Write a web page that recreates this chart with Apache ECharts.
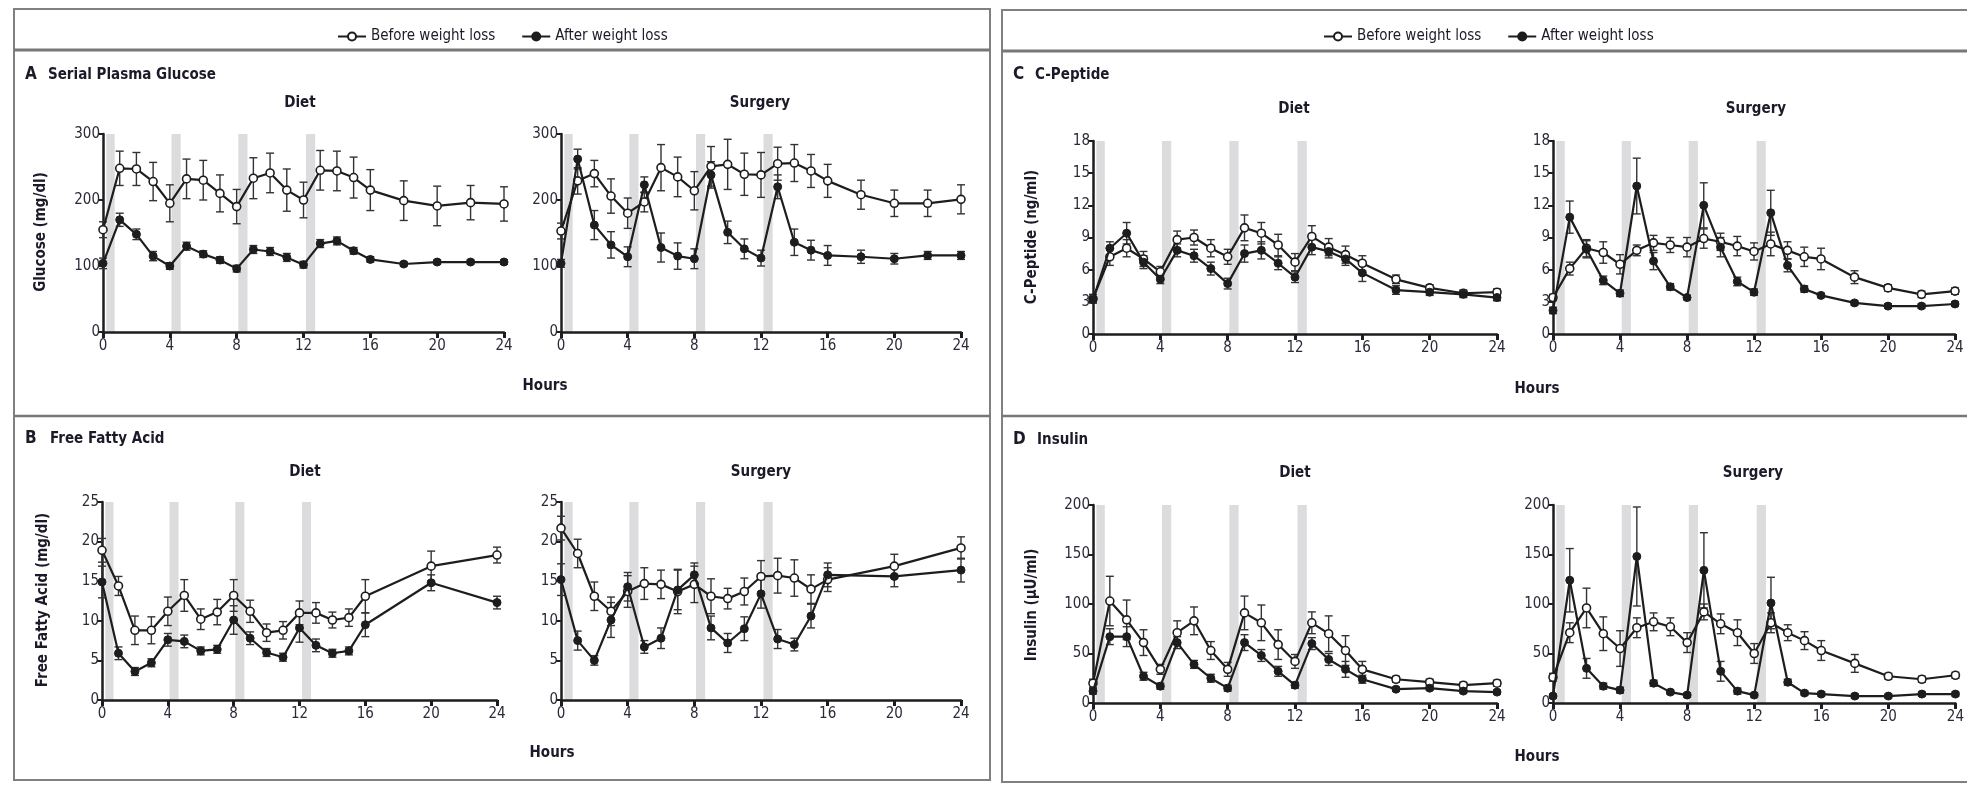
<!DOCTYPE html>
<html>
<head>
<meta charset="utf-8">
<script src="https://cdn.jsdelivr.net/npm/echarts@6/dist/echarts.min.js"></script>
<style>
  html, body { margin: 0; background: #fff; }
  #chart { width: 1967px; height: 785px; }
</style>
</head>
<body>
<div id="chart"></div>
<script>
// ===== time points & meals =====
const HOURS = [0, 1, 2, 3, 4, 5, 6, 7, 8, 9, 10, 11, 12, 13, 14, 15, 16, 18, 20, 22, 24];
const FFA_HOURS = [0, 1, 2, 3, 4, 5, 6, 7, 8, 9, 10, 11, 12, 13, 14, 15, 16, 20, 24];
const MEALS = [[0.2, 0.7], [4.1, 4.65], [8.1, 8.65], [12.15, 12.7]];
const X_TICKS = [0, 4, 8, 12, 16, 20, 24];

// A — glucose (mg/dl)
const GLU_DIET_BEFORE = [155, 248, 247, 228, 195, 232, 230, 210, 190, 233, 241, 215, 200, 245, 244, 234, 215, 199, 191, 196, 194];
const GLU_DIET_BEFORE_SE = [12, 26, 25, 29, 28, 30, 30, 28, 26, 31, 30, 32, 27, 30, 30, 31, 31, 30, 30, 26, 26];
const GLU_DIET_AFTER = [104, 170, 148, 115, 100, 130, 118, 109, 96, 125, 122, 113, 102, 134, 138, 123, 110, 103, 106, 106, 106];
const GLU_DIET_AFTER_SE = [8, 10, 8, 7, 5, 6, 5, 5, 5, 6, 6, 6, 5, 6, 6, 5, 4, 3, 3, 3, 3];
const GLU_SURG_BEFORE = [153, 229, 240, 206, 180, 197, 249, 235, 214, 251, 254, 239, 238, 255, 256, 244, 229, 208, 195, 195, 201];
const GLU_SURG_BEFORE_SE = [12, 20, 20, 26, 23, 15, 35, 30, 29, 30, 38, 32, 34, 25, 28, 25, 25, 22, 20, 20, 22];
const GLU_SURG_AFTER = [104, 262, 162, 132, 114, 223, 128, 115, 111, 238, 151, 126, 112, 220, 136, 124, 116, 114, 111, 116, 116];
const GLU_SURG_AFTER_SE = [6, 15, 22, 20, 15, 12, 22, 20, 15, 20, 17, 15, 12, 18, 20, 15, 15, 10, 8, 6, 6];

// B — free fatty acid (mg/dl)
const FFA_DIET_BEFORE = [18.9, 14.4, 8.8, 8.8, 11.2, 13.2, 10.2, 11.1, 13.2, 11.2, 8.5, 8.8, 11.0, 11.0, 10.1, 10.4, 13.1, 16.9, 18.3];
const FFA_DIET_BEFORE_SE = [1.5, 1.2, 1.8, 1.7, 1.8, 2.0, 1.3, 1.6, 2.0, 1.4, 1.1, 1.1, 1.5, 1.3, 1.0, 1.1, 2.1, 1.9, 1.0];
const FFA_DIET_AFTER = [14.9, 5.9, 3.6, 4.7, 7.6, 7.4, 6.2, 6.4, 10.1, 7.8, 6.0, 5.4, 9.1, 6.9, 5.9, 6.2, 9.5, 14.8, 12.3];
const FFA_DIET_AFTER_SE = [2.0, 0.8, 0.5, 0.5, 0.8, 0.8, 0.5, 0.5, 1.8, 0.8, 0.5, 0.5, 1.8, 0.8, 0.5, 0.5, 1.5, 1.0, 0.8];
const FFA_SURG_BEFORE = [21.7, 18.5, 13.1, 11.2, 13.7, 14.7, 14.6, 13.7, 14.6, 13.1, 12.8, 13.7, 15.6, 15.7, 15.4, 14.0, 15.2, 16.9, 19.2];
const FFA_SURG_BEFORE_SE = [1.5, 1.8, 1.8, 1.8, 2.0, 2.0, 1.8, 2.8, 2.3, 2.2, 1.3, 1.7, 2.0, 2.2, 2.3, 1.8, 1.5, 1.5, 1.4];
const FFA_SURG_AFTER = [15.2, 7.5, 5.0, 10.1, 14.3, 6.7, 7.8, 13.9, 15.8, 9.1, 7.2, 9.0, 13.4, 7.7, 7.0, 10.6, 15.8, 15.6, 16.4];
const FFA_SURG_AFTER_SE = [2.0, 1.2, 0.6, 2.2, 1.8, 0.8, 1.3, 2.5, 1.5, 1.5, 1.2, 1.5, 1.8, 1.2, 0.8, 1.5, 1.5, 1.3, 1.5];

// C — C-peptide (ng/ml)
const CPEP_DIET_BEFORE = [3.3, 7.2, 8.0, 7.0, 5.8, 8.8, 9.0, 8.0, 7.2, 9.9, 9.4, 8.3, 6.7, 9.1, 8.1, 7.4, 6.6, 5.1, 4.3, 3.8, 3.9];
const CPEP_DIET_BEFORE_SE = [0.4, 0.8, 0.8, 0.7, 0.5, 0.8, 0.7, 0.8, 0.7, 1.2, 1.0, 1.0, 0.8, 1.0, 0.8, 0.8, 0.7, 0.4, 0.3, 0.3, 0.3];
const CPEP_DIET_AFTER = [3.2, 8.0, 9.4, 6.7, 5.1, 7.8, 7.3, 6.1, 4.7, 7.5, 7.8, 6.6, 5.3, 8.1, 7.7, 7.0, 5.7, 4.1, 3.9, 3.7, 3.4];
const CPEP_DIET_AFTER_SE = [0.3, 0.6, 1.0, 0.6, 0.4, 0.6, 0.6, 0.6, 0.5, 0.8, 0.8, 0.6, 0.5, 0.7, 0.6, 0.6, 0.8, 0.4, 0.3, 0.3, 0.3];
const CPEP_SURG_BEFORE = [3.4, 6.1, 8.0, 7.6, 6.5, 7.8, 8.5, 8.3, 8.1, 8.9, 8.6, 8.2, 7.7, 8.4, 7.8, 7.2, 7.0, 5.3, 4.3, 3.7, 4.0];
const CPEP_SURG_BEFORE_SE = [0.3, 0.6, 0.8, 1.0, 0.9, 0.5, 0.7, 0.7, 0.9, 0.9, 0.8, 0.9, 0.8, 1.1, 0.8, 0.9, 1.0, 0.6, 0.3, 0.3, 0.3];
const CPEP_SURG_AFTER = [2.2, 10.9, 7.9, 5.0, 3.8, 13.8, 6.8, 4.4, 3.4, 12.0, 8.1, 4.9, 3.9, 11.3, 6.4, 4.2, 3.6, 2.9, 2.6, 2.6, 2.8];
const CPEP_SURG_AFTER_SE = [0.3, 1.5, 0.8, 0.4, 0.3, 2.6, 0.8, 0.3, 0.2, 2.1, 0.9, 0.4, 0.3, 2.1, 0.6, 0.3, 0.2, 0.2, 0.2, 0.2, 0.2];

// D — insulin (µU/ml)
const INS_DIET_BEFORE = [20, 103, 84, 61, 34, 71, 83, 53, 34, 91, 81, 59, 42, 81, 70, 53, 34, 24, 21, 18, 20];
const INS_DIET_BEFORE_SE = [4, 25, 20, 13, 5, 12, 14, 9, 7, 17, 18, 15, 7, 11, 18, 15, 8, 3, 3, 3, 3];
const INS_DIET_AFTER = [12, 67, 67, 27, 17, 61, 39, 25, 15, 61, 48, 32, 18, 60, 44, 34, 24, 14, 15, 12, 11];
const INS_DIET_AFTER_SE = [3, 8, 10, 4, 3, 6, 4, 4, 3, 8, 6, 5, 3, 6, 6, 8, 4, 2, 2, 2, 2];
const INS_SURG_BEFORE = [26, 71, 96, 70, 55, 76, 82, 77, 61, 92, 80, 71, 50, 81, 71, 63, 53, 40, 27, 24, 28];
const INS_SURG_BEFORE_SE = [4, 10, 20, 17, 18, 10, 9, 9, 10, 8, 10, 13, 10, 10, 8, 9, 10, 9, 3, 3, 3];
const INS_SURG_AFTER = [7, 124, 35, 17, 13, 148, 20, 11, 8, 134, 32, 12, 8, 101, 21, 10, 9, 7, 7, 9, 9];
const INS_SURG_AFTER_SE = [2, 32, 10, 3, 3, 50, 3, 2, 2, 38, 10, 3, 2, 26, 3, 2, 2, 2, 2, 2, 2];

const FONT = "'Liberation Sans Narrow', 'DejaVu Sans Condensed', 'Roboto Condensed', sans-serif";
const INK = '#1d1d1d';
const LABEL = '#2a2a38';
const BEFORE = 'Before weight loss';
const AFTER = 'After weight loss';

// 8 small plots: grid box [left, top, width, height]
const PANELS = [
  { box: [103, 134, 401, 198], max: 300, step: 100, t: HOURS, b: GLU_DIET_BEFORE, bs: GLU_DIET_BEFORE_SE, a: GLU_DIET_AFTER, as: GLU_DIET_AFTER_SE },
  { box: [561, 134, 400, 198], max: 300, step: 100, t: HOURS, b: GLU_SURG_BEFORE, bs: GLU_SURG_BEFORE_SE, a: GLU_SURG_AFTER, as: GLU_SURG_AFTER_SE },
  { box: [102, 502, 395, 198], max: 25, step: 5, t: FFA_HOURS, b: FFA_DIET_BEFORE, bs: FFA_DIET_BEFORE_SE, a: FFA_DIET_AFTER, as: FFA_DIET_AFTER_SE },
  { box: [561, 502, 400, 198], max: 25, step: 5, t: FFA_HOURS, b: FFA_SURG_BEFORE, bs: FFA_SURG_BEFORE_SE, a: FFA_SURG_AFTER, as: FFA_SURG_AFTER_SE },
  { box: [1093, 141, 404, 193], max: 18, step: 3, t: HOURS, b: CPEP_DIET_BEFORE, bs: CPEP_DIET_BEFORE_SE, a: CPEP_DIET_AFTER, as: CPEP_DIET_AFTER_SE },
  { box: [1553, 141, 402, 193], max: 18, step: 3, t: HOURS, b: CPEP_SURG_BEFORE, bs: CPEP_SURG_BEFORE_SE, a: CPEP_SURG_AFTER, as: CPEP_SURG_AFTER_SE },
  { box: [1093, 505, 404, 198], max: 200, step: 50, t: HOURS, b: INS_DIET_BEFORE, bs: INS_DIET_BEFORE_SE, a: INS_DIET_AFTER, as: INS_DIET_AFTER_SE },
  { box: [1553, 505, 403, 198], max: 200, step: 50, t: HOURS, b: INS_SURG_BEFORE, bs: INS_SURG_BEFORE_SE, a: INS_SURG_AFTER, as: INS_SURG_AFTER_SE },
];

// 误差线: [x, low, high]
function renderErrorBar(params, api) {
  const x = api.value(0);
  const top = api.coord([x, api.value(2)]);
  const bot = api.coord([x, api.value(1)]);
  const w = 4;
  const style = { stroke: '#333', lineWidth: 1.4 };
  return {
    type: 'group',
    children: [
      { type: 'line', shape: { x1: top[0], y1: top[1], x2: bot[0], y2: bot[1] }, style },
      { type: 'line', shape: { x1: top[0] - w, y1: top[1], x2: top[0] + w, y2: top[1] }, style },
      { type: 'line', shape: { x1: bot[0] - w, y1: bot[1], x2: bot[0] + w, y2: bot[1] }, style },
    ],
  };
}

// 餐次灰条: [start, end], full plot height
function renderMeal(params, api) {
  const p0 = api.coord([api.value(0), 0]);
  const p1 = api.coord([api.value(1), 0]);
  const cs = params.coordSys;
  return {
    type: 'rect',
    shape: { x: p0[0], y: cs.y, width: p1[0] - p0[0], height: cs.height },
    style: { fill: '#dcdcdf' },
  };
}

const grid = [], xAxis = [], yAxis = [], series = [];
PANELS.forEach((p, i) => {
  grid.push({ left: p.box[0], top: p.box[1], width: p.box[2], height: p.box[3] });
  xAxis.push({
    gridIndex: i, type: 'value', min: 0, max: 24, interval: 4,
    axisLine: { lineStyle: { color: INK, width: 2.5 } },
    axisTick: { length: 6, lineStyle: { color: INK, width: 3 } },
    axisLabel: { fontFamily: FONT, fontSize: 15, color: LABEL, margin: 7 },
    splitLine: { show: false },
  });
  yAxis.push({
    gridIndex: i, type: 'value', min: 0, max: p.max, interval: p.step,
    axisLine: { show: true, lineStyle: { color: INK, width: 2.5 } },
    axisTick: { show: true, length: 5, lineStyle: { color: INK, width: 2 } },
    axisLabel: { fontFamily: FONT, fontSize: 15, color: LABEL, margin: 3 },
    splitLine: { show: false },
  });
  series.push({
    type: 'custom', xAxisIndex: i, yAxisIndex: i, z: 0, silent: true,
    renderItem: renderMeal, encode: { x: [0, 1] },
    data: MEALS,
  });
  [[p.b, p.bs], [p.a, p.as]].forEach(([vals, se]) => {
    series.push({
      type: 'custom', name: 'err', xAxisIndex: i, yAxisIndex: i, z: 1, silent: true,
      renderItem: renderErrorBar, encode: { x: 0, y: [1, 2] },
      data: p.t.map((h, k) => [h, vals[k] - se[k], vals[k] + se[k]]),
    });
  });
  series.push({
    name: BEFORE, type: 'line', xAxisIndex: i, yAxisIndex: i, z: 3, clip: false,
    data: p.t.map((h, k) => [h, p.b[k]]),
    symbol: 'circle', symbolSize: 8,
    itemStyle: { color: '#fff', borderColor: INK, borderWidth: 1.6 },
    lineStyle: { color: INK, width: 2.2 },
  });
  series.push({
    name: AFTER, type: 'line', xAxisIndex: i, yAxisIndex: i, z: 4, clip: false,
    data: p.t.map((h, k) => [h, p.a[k]]),
    symbol: 'circle', symbolSize: 8,
    itemStyle: { color: INK, borderColor: INK, borderWidth: 1 },
    lineStyle: { color: INK, width: 2.2 },
  });
});

function txt(x, y, text, size, bold, align, rotate) {
  return {
    type: 'text', x, y, rotation: rotate || 0, z: 10,
    style: {
      text, fontFamily: FONT, fontSize: size, fontWeight: bold ? 'bold' : 'normal',
      fill: '#1a1a28', align: align || 'left', verticalAlign: 'middle',
    },
  };
}
function hline(x1, x2, y, w) {
  return { type: 'line', shape: { x1, y1: y, x2, y2: y }, style: { stroke: '#777', lineWidth: w } };
}

const graphic = [
  // frames
  { type: 'rect', shape: { x: 14, y: 9, width: 976, height: 771 }, style: { fill: 'none', stroke: '#808080', lineWidth: 2 } },
  { type: 'rect', shape: { x: 1002, y: 10, width: 980, height: 772 }, style: { fill: 'none', stroke: '#808080', lineWidth: 2 } },
  hline(14, 990, 50, 3), hline(1002, 1967, 51, 3),
  hline(14, 990, 416, 2.5), hline(1002, 1967, 416, 2.5),
  // panel titles
  txt(25, 75, 'A', 17, true), txt(48, 75, 'Serial Plasma Glucose', 15, true),
  txt(25, 439, 'B', 17, true), txt(50, 439, 'Free Fatty Acid', 15, true),
  txt(1013, 75, 'C', 17, true), txt(1035, 75, 'C-Peptide', 15, true),
  txt(1013, 440, 'D', 17, true), txt(1037, 440, 'Insulin', 15, true),
  // sub titles
  txt(300, 103, 'Diet', 15, true, 'center'), txt(760, 103, 'Surgery', 15, true, 'center'),
  txt(305, 472, 'Diet', 15, true, 'center'), txt(761, 472, 'Surgery', 15, true, 'center'),
  txt(1294, 109, 'Diet', 15, true, 'center'), txt(1756, 109, 'Surgery', 15, true, 'center'),
  txt(1295, 473, 'Diet', 15, true, 'center'), txt(1753, 473, 'Surgery', 15, true, 'center'),
  // x names
  txt(545, 386, 'Hours', 15, true, 'center'), txt(552, 753, 'Hours', 15, true, 'center'),
  txt(1537, 389, 'Hours', 15, true, 'center'), txt(1537, 757, 'Hours', 15, true, 'center'),
  // y names
  txt(41, 232, 'Glucose (mg/dl)', 15, true, 'center', Math.PI / 2),
  txt(43, 600, 'Free Fatty Acid (mg/dl)', 15, true, 'center', Math.PI / 2),
  txt(1032, 237, 'C-Peptide (ng/ml)', 15, true, 'center', Math.PI / 2),
  txt(1032, 605, 'Insulin (µU/ml)', 15, true, 'center', Math.PI / 2),
];

const legendBase = {
  data: [BEFORE, AFTER], top: 24, itemWidth: 28, itemHeight: 10, itemGap: 26,
  selectedMode: false,
  textStyle: { fontFamily: FONT, fontSize: 15, color: '#1a1a28' },
};

const chart = echarts.init(document.getElementById('chart'));
chart.setOption({
  animation: false,
  backgroundColor: '#fff',
  legend: [
    Object.assign({ left: 332 }, legendBase),
    Object.assign({ left: 1318 }, legendBase),
  ],
  grid, xAxis, yAxis, series, graphic,
});
</script>
</body>
</html>
